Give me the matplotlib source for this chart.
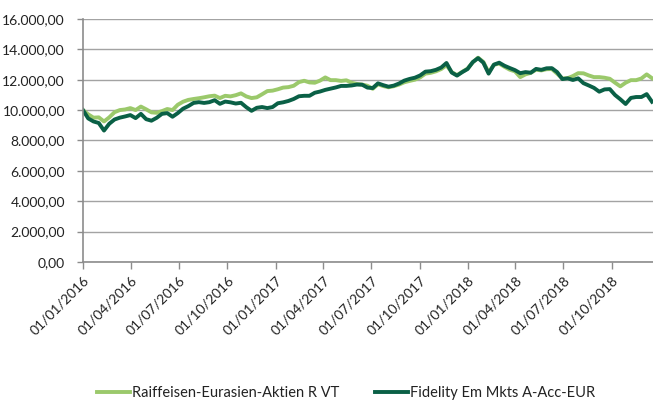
import numpy as np
import pandas as pd
import matplotlib
matplotlib.use("Agg")
import matplotlib.pyplot as plt
import matplotlib.dates as mdates
from matplotlib.ticker import FuncFormatter

plt.rcParams['font.family'] = ['Lato', 'DejaVu Sans']

# Werte alle 10 Tage ab 01/01/2016
dates = pd.date_range("2016-01-01", periods=109, freq="10D")

raiffeisen = [
    10000, 9720, 9500, 9520, 9250, 9520, 9860, 10000, 10040, 10130,
    10000, 10230, 10050, 9850, 9820, 9930, 10070, 10000, 10350, 10550,
    10670, 10730, 10780, 10840, 10910, 10950, 10790, 10940, 10900, 10980,
    11100, 10900, 10790, 10840, 11040, 11250, 11280, 11370, 11480, 11510,
    11600, 11840, 11930, 11820, 11800, 11940, 12150, 11970, 11970, 11920,
    11960, 11800, 11720, 11680, 11600, 11400, 11700, 11580, 11500, 11570,
    11680, 11830, 11920, 12000, 12150, 12400, 12450, 12550, 12700, 12950,
    12500, 12300, 12520, 12730, 13150, 13450, 13170, 12480, 12980, 13060,
    12850, 12660, 12550, 12170, 12350, 12450, 12660, 12610, 12690, 12700,
    12400, 12080, 12100, 12240, 12430, 12420, 12280, 12170, 12170, 12130,
    12060, 11800, 11560, 11800, 11970, 11970, 12080, 12350, 12100,
]

fidelity = [
    10000, 9450, 9250, 9150, 8650, 9100, 9380, 9500, 9580, 9670,
    9470, 9750, 9400, 9300, 9490, 9750, 9800, 9560, 9800, 10090,
    10260, 10470, 10520, 10470, 10520, 10650, 10410, 10560, 10510, 10430,
    10480, 10190, 9950, 10150, 10200, 10130, 10200, 10450, 10510, 10600,
    10730, 10910, 10940, 10940, 11140, 11220, 11330, 11410, 11490, 11590,
    11590, 11620, 11680, 11670, 11480, 11450, 11760, 11640, 11540, 11610,
    11750, 11940, 12050, 12130, 12280, 12530, 12560, 12650, 12800, 13100,
    12470, 12270, 12500, 12700, 13160, 13420, 13120, 12400, 12990, 13120,
    12920, 12770, 12630, 12430, 12500, 12460, 12710, 12650, 12750, 12760,
    12500, 12040, 12090, 11980, 12090, 11770, 11620, 11460, 11210, 11360,
    11380, 10990, 10710, 10400, 10800, 10860, 10860, 11050, 10550,
]

series_names = ["Raiffeisen-Eurasien-Aktien R VT", "Fidelity Em Mkts A-Acc-EUR"]
tick_dates = pd.date_range("2016-01-01", "2018-10-01", freq="3MS")
y_ticks = np.arange(0, 16001, 2000)

light_green = "#9bc96b"
dark_green = "#0a6046"
grid_grey = "#a3a3a3"

fig = plt.figure(figsize=(6.53, 4.03), dpi=100)
ax = fig.add_axes([0.127, 0.35, 0.873, 0.603])

ax.plot(dates, raiffeisen, color=light_green, lw=2.8, label=series_names[0],
        solid_joinstyle="round")
ax.plot(dates, fidelity, color=dark_green, lw=2.8, label=series_names[1],
        solid_joinstyle="round")

ax.set_ylim(0, 16000)
ax.set_xlim(pd.Timestamp("2016-01-01"), pd.Timestamp("2018-12-18"))
ax.set_yticks(y_ticks)
ax.yaxis.set_major_formatter(FuncFormatter(
    lambda v, p: f"{v:,.2f}".replace(",", "X").replace(".", ",").replace("X", ".")))
ax.grid(axis="y", color=grid_grey, lw=1)
ax.set_axisbelow(True)

ax.set_xticks(tick_dates)
ax.xaxis.set_major_formatter(mdates.DateFormatter("%d/%m/%Y"))
for lbl in ax.get_xticklabels():
    lbl.set_rotation(45)
    lbl.set_ha("right")
    lbl.set_rotation_mode("anchor")

for s in ["top", "right"]:
    ax.spines[s].set_visible(False)
for s in ["left", "bottom"]:
    ax.spines[s].set_color("#8c8c8c")
    ax.spines[s].set_linewidth(1.2)

ax.tick_params(axis="y", length=4, width=1, color="#8c8c8c", pad=9,
               labelsize=10, labelcolor="#222222")
ax.tick_params(axis="x", length=5, width=1, color="#8c8c8c", pad=4,
               labelsize=10, labelcolor="#222222")

fig.legend(loc="center", bbox_to_anchor=(0.53, 0.025), ncol=2, frameon=False,
           fontsize=10.5, handlelength=2.3, handletextpad=0.15, columnspacing=2.4,
           labelcolor="#222222")

fig.savefig("out.png", dpi=100)
